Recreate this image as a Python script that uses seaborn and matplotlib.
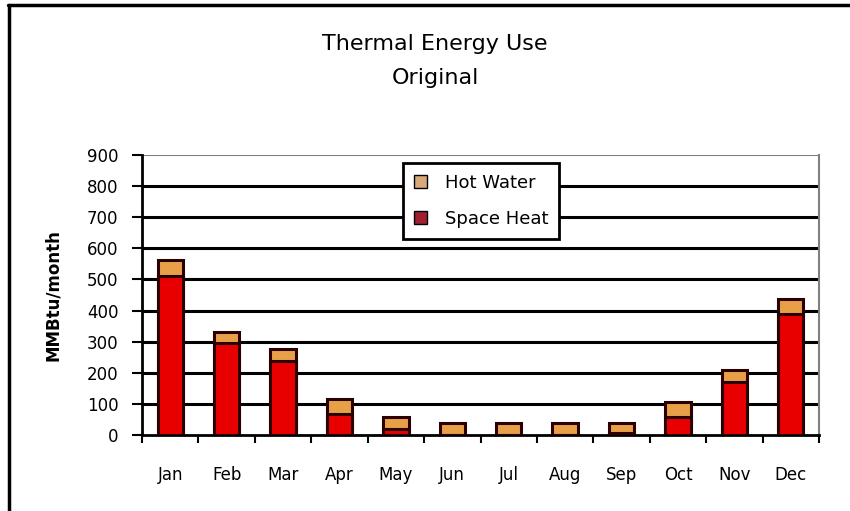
import matplotlib
matplotlib.use("Agg")
import matplotlib.pyplot as plt
import seaborn as sns
import numpy as np
import pandas as pd
from matplotlib.lines import Line2D
from matplotlib.patches import Patch

months = ["Jan", "Feb", "Mar", "Apr", "May", "Jun", "Jul", "Aug", "Sep", "Oct", "Nov", "Dec"]
space_heat = [512, 295, 239, 67, 19, 0, 0, 0, 6, 59, 171, 389]
hot_water = [50, 37, 38, 49, 40, 40, 40, 40, 34, 46, 38, 48]
yticks = [0, 100, 200, 300, 400, 500, 600, 700, 800, 900]

sns.set_theme(style="white")
plt.rcParams['font.family'] = ['DejaVu Sans']
plt.rcParams['text.color'] = 'black'
plt.rcParams['xtick.color'] = 'black'
plt.rcParams['ytick.color'] = 'black'
plt.rcParams['axes.labelcolor'] = 'black'

df = pd.DataFrame({"month": months, "space": space_heat, "hot": hot_water})
df["total"] = df["space"] + df["hot"]

fig = plt.figure(figsize=(8.5, 5.11), dpi=100)
fig.patch.set_facecolor("white")
ax = fig.add_axes([142/850, 76/511, 677/850, 280/511])

for y in yticks[1:-1]:
    ax.axhline(y, color="black", lw=2.2, zorder=0)
ax.axhline(900, color="#808080", lw=1.5, zorder=0)

hot_color = "#E8A048"
red_color = "#E80000"
edge = "#2a0000"
sns.barplot(data=df, x="month", y="total", color=hot_color, width=0.45,
            edgecolor=edge, linewidth=2.2, ax=ax, zorder=2, saturation=1)
sns.barplot(data=df, x="month", y="space", color=red_color, width=0.45,
            edgecolor=edge, linewidth=2.2, ax=ax, zorder=3, saturation=1)

ax.set_ylim(0, 900)
ax.set_xlim(-0.5, 11.5)
ax.set_yticks(yticks)
ax.set_yticklabels([str(v) for v in yticks], fontsize=12)
ax.set_xlabel("")
ax.set_ylabel("MMBtu/month", fontsize=12, fontweight="bold", labelpad=18)
ax.tick_params(axis="x", which="major", length=0, pad=22, labelsize=12)
ax.set_xticks(np.arange(-0.5, 12, 1), minor=True)
ax.tick_params(axis="x", which="minor", length=6, width=1.5, color="black", direction="out", bottom=True)
ax.tick_params(axis="y", length=7, width=1.5, color="black", direction="out", left=True, pad=10)
for s in ["left", "bottom"]:
    ax.spines[s].set_color("black")
    ax.spines[s].set_linewidth(2)
ax.spines["top"].set_visible(False)
ax.spines["right"].set_color("#808080")
ax.spines["right"].set_linewidth(1.5)

handles = [Patch(facecolor="#D9A878", edgecolor="black", label="Hot Water"),
           Patch(facecolor="#A02030", edgecolor="black", label="Space Heat")]
leg = ax.legend(handles=handles, loc="upper left", bbox_to_anchor=(0.386, 0.972),
                frameon=True, fancybox=False, fontsize=13, handlelength=0.7,
                handleheight=0.7, borderpad=0.6, labelspacing=1.0, handletextpad=1.0,
                borderaxespad=0)
leg.get_frame().set_edgecolor("black")
leg.get_frame().set_linewidth(2)
leg.get_frame().set_alpha(1)
leg.set_zorder(5)

fig.text(435/850, 1 - 44/511, "Thermal Energy Use", ha="center", va="center", fontsize=16)
fig.text(435/850, 1 - 78/511, "Original", ha="center", va="center", fontsize=16)

fig.add_artist(Line2D([8/850, 1.0], [1 - 5/511, 1 - 5/511], transform=fig.transFigure,
                      color="black", lw=2.5))
fig.add_artist(Line2D([9/850, 9/850], [0.0, 1 - 5/511], transform=fig.transFigure,
                      color="black", lw=2.5))

fig.savefig("out.png", dpi=100)
